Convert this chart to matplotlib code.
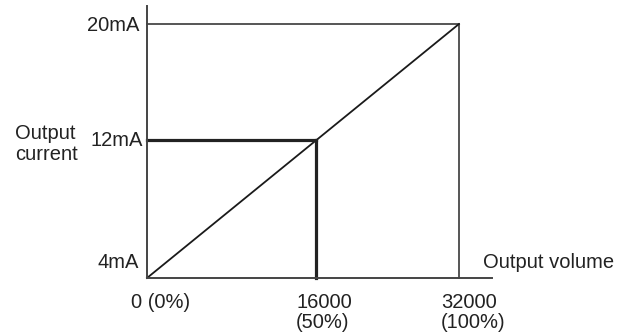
import numpy as np
import matplotlib
matplotlib.use('Agg')
import matplotlib.pyplot as plt

# Data
volume = [0, 16000, 32000]
current = [4, 12, 20]
x_tick_labels = ['0 (0%)', '16000\n(50%)', '32000\n(100%)']
y_tick_labels = ['4mA', '12mA', '20mA']
x_title = 'Output volume'
y_title = 'Output current'

plt.rcParams['font.family'] = ['Liberation Sans', 'DejaVu Sans']
FS = 14.5
TXT = '#222222'

W, H = 624, 336
fig = plt.figure(figsize=(W / 100, H / 100), dpi=100)
ax = fig.add_axes([147 / W, 58 / H, 345 / W, 272 / H])

# piecewise-linear scales as drawn in the original sketch
brk = 0.542
xs = [volume[0], volume[1], volume[2], 2 * volume[2]]
us = [0, brk, 1, 1 + 2 * (1 - brk)]
ys = [current[0], current[1], current[2], 2 * current[2] - current[0]]
ax.set_xscale('function', functions=(lambda v: np.interp(v, xs, us),
                                     lambda u: np.interp(u, us, xs)))
ax.set_yscale('function', functions=(lambda v: np.interp(v, ys, us),
                                     lambda u: np.interp(u, us, ys)))
ax.set_xlim(volume[0], np.interp(1.106, us, xs))
ax.set_ylim(current[0], np.interp(1.071, us, ys))

# reference lines
ax.plot([volume[0], volume[2]], [current[2], current[2]], color='#555555', lw=1.4, clip_on=False)
ax.plot([volume[2], volume[2]], [current[0], current[2]], color='#555555', lw=1.4, clip_on=False)
# diagonal
ax.plot([volume[0], volume[2]], [current[0], current[2]], color='#1a1a1a', lw=1.3, clip_on=False)
# midpoint guides
ax.plot([volume[0], volume[1]], [current[1], current[1]], color='#222222', lw=2.3, clip_on=False)
ax.plot([volume[1], volume[1]], [current[0], current[1]], color='#222222', lw=2.3, clip_on=False)

for s in ['top', 'right']:
    ax.spines[s].set_visible(False)
for s in ['left', 'bottom']:
    ax.spines[s].set_color('#444444')
    ax.spines[s].set_linewidth(1.4)
ax.set_xticks([])
ax.set_yticks([])
ax.minorticks_off()

# y labels
y_offsets = [(-8, 15), (-4, 0), (-8, -1)]
for v, lab, off in zip(current, y_tick_labels, y_offsets):
    ax.annotate(lab, xy=(volume[0], v), xytext=off, textcoords='offset pixels',
                ha='right', va='center', fontsize=FS, color=TXT, annotation_clip=False)

# x labels
x_offsets = [(-16, -15), (-20, -15), (-18, -15)]
for v, lab, off in zip(volume, x_tick_labels, x_offsets):
    ax.annotate(lab, xy=(v, current[0]), xytext=off, textcoords='offset pixels',
                ha='left', va='top', fontsize=FS, color=TXT, annotation_clip=False,
                linespacing=1.1)

fig.text(483 / W, 1 - 263 / H, x_title, ha='left', va='center', fontsize=FS, color=TXT)
fig.text(15 / W, 1 - 144 / H, y_title.replace(' ', '\n'), ha='left', va='center',
         fontsize=FS, color=TXT, linespacing=1.1)

fig.savefig('out.png', dpi=100)
